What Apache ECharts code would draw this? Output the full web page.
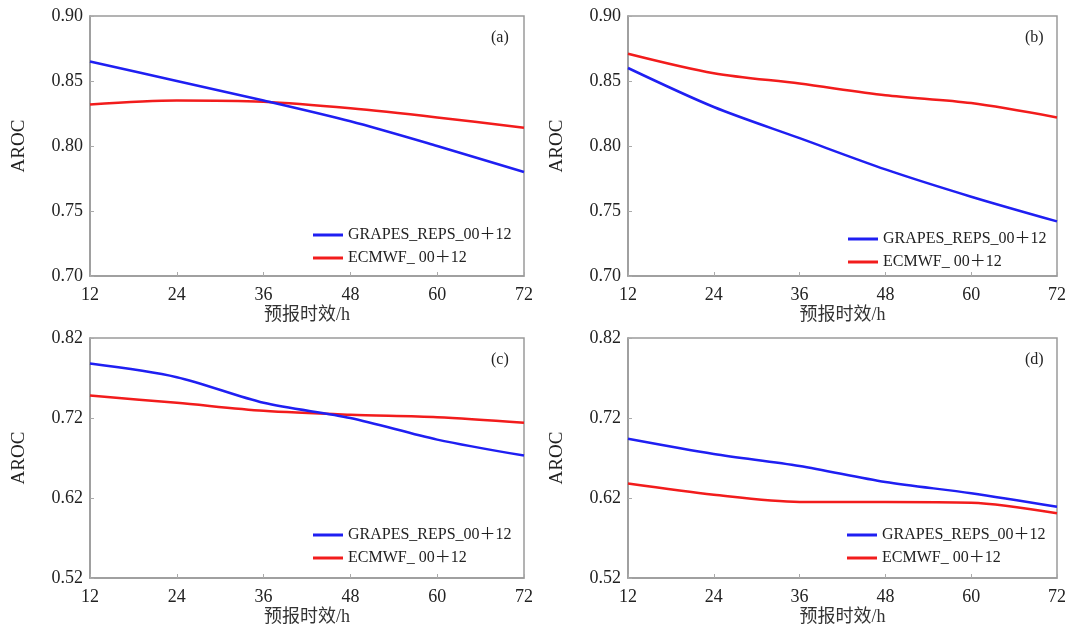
<!DOCTYPE html>
<html><head><meta charset="utf-8">
<script src="https://cdn.jsdelivr.net/npm/echarts@6/dist/echarts.min.js"></script>
<style>html,body{margin:0;padding:0;background:#fff}#c{width:1069px;height:635px}</style>
</head><body><div id="c"></div>
<script>
const hours = [12, 24, 36, 48, 60, 72];
const seriesNames = ['GRAPES_REPS_00＋12', 'ECMWF_ 00＋12'];
const panelLabels = ['(a)', '(b)', '(c)', '(d)'];
const grapesA = [0.865, 0.850, 0.835, 0.819, 0.800, 0.780];
const ecmwfA  = [0.832, 0.835, 0.834, 0.829, 0.822, 0.814];
const grapesB = [0.860, 0.830, 0.806, 0.782, 0.761, 0.742];
const ecmwfB  = [0.871, 0.856, 0.848, 0.839, 0.833, 0.822];
const grapesC = [0.788, 0.771, 0.739, 0.720, 0.693, 0.673];
const ecmwfC  = [0.748, 0.739, 0.729, 0.724, 0.721, 0.714];
const grapesD = [0.694, 0.675, 0.660, 0.640, 0.626, 0.609];
const ecmwfD  = [0.638, 0.624, 0.615, 0.615, 0.614, 0.601];
const yTicksTop = [0.70, 0.75, 0.80, 0.85, 0.90];
const yTicksBottom = [0.52, 0.62, 0.72, 0.82];
const xAxisName = '预报时效/h';
const yAxisName = 'AROC';

const FONT = '"Liberation Serif", "Noto Sans CJK SC", serif';
const BLUE = '#1f1ff2', RED = '#f21c1c';
const grids = [
  {left: 90, top: 16, width: 434, height: 260},
  {left: 628, top: 16, width: 430, height: 260},
  {left: 90, top: 338, width: 434, height: 240},
  {left: 628, top: 338, width: 430, height: 240}
];
const panelData = [[grapesA, ecmwfA], [grapesB, ecmwfB], [grapesC, ecmwfC], [grapesD, ecmwfD]];
const yTickSets = [yTicksTop, yTicksTop, yTicksBottom, yTicksBottom];
const legendPos = [{left: 308, top: 222}, {left: 843, top: 226}, {left: 308, top: 522}, {left: 842, top: 522}];

const option = {
  backgroundColor: '#fff',
  animation: false,
  grid: grids.map(g => Object.assign({show: true, borderColor: '#9a9a9a', borderWidth: 1.5, backgroundColor: 'transparent'}, g)),
  title: grids.map((g, i) => ({
    text: panelLabels[i], left: g.left + g.width - 38, top: g.top + 9,
    textStyle: {fontFamily: FONT, fontSize: 16, fontWeight: 'normal', color: '#222'}
  })),
  legend: grids.map((g, i) => ({
    orient: 'vertical', left: legendPos[i].left, top: legendPos[i].top,
    itemWidth: 30, itemHeight: 3, itemGap: 7, icon: 'rect',
    data: seriesNames,
    textStyle: {fontFamily: FONT, fontSize: 16, color: '#222'}
  })),
  xAxis: grids.map((g, i) => ({
    type: 'value', gridIndex: i, min: 12, max: 72, interval: 12,
    name: xAxisName, nameLocation: 'middle', nameGap: 30,
    nameTextStyle: {fontFamily: FONT, fontSize: 18, color: '#333'},
    axisLine: {show: true, lineStyle: {color: '#9a9a9a', width: 1.5}},
    axisTick: {show: true, inside: true, length: 4, lineStyle: {color: '#aaa'}},
    axisLabel: {fontFamily: FONT, fontSize: 18, color: '#222', margin: 10},
    splitLine: {show: false}
  })),
  yAxis: grids.map((g, i) => {
    const t = yTickSets[i];
    return {
      type: 'value', gridIndex: i, min: t[0], max: t[t.length - 1],
      name: yAxisName, nameLocation: 'middle', nameGap: 61, nameRotate: 90,
      nameTextStyle: {fontFamily: FONT, fontSize: 19, color: '#222'},
      axisLine: {show: true, lineStyle: {color: '#9a9a9a', width: 1.5}},
      axisTick: {show: true, inside: true, length: 4, lineStyle: {color: '#aaa'}, customValues: t},
      axisLabel: {fontFamily: FONT, fontSize: 18, color: '#222', margin: 7, customValues: t, formatter: v => v.toFixed(2)},
      splitLine: {show: false}
    };
  }),
  series: []
};
panelData.forEach((pair, i) => {
  pair.forEach((vals, k) => {
    option.series.push({
      type: 'line', name: seriesNames[k], xAxisIndex: i, yAxisIndex: i,
      data: hours.map((h, j) => [h, vals[j]]),
      smooth: 0.3, showSymbol: false, symbol: 'none',
      lineStyle: {width: 2.5, color: k === 0 ? BLUE : RED},
      itemStyle: {color: k === 0 ? BLUE : RED},
      z: k === 0 ? 3 : 2
    });
  });
});
const chart = echarts.init(document.getElementById('c'), null, {renderer: 'canvas'});
chart.setOption(option);
</script>
</body></html>
